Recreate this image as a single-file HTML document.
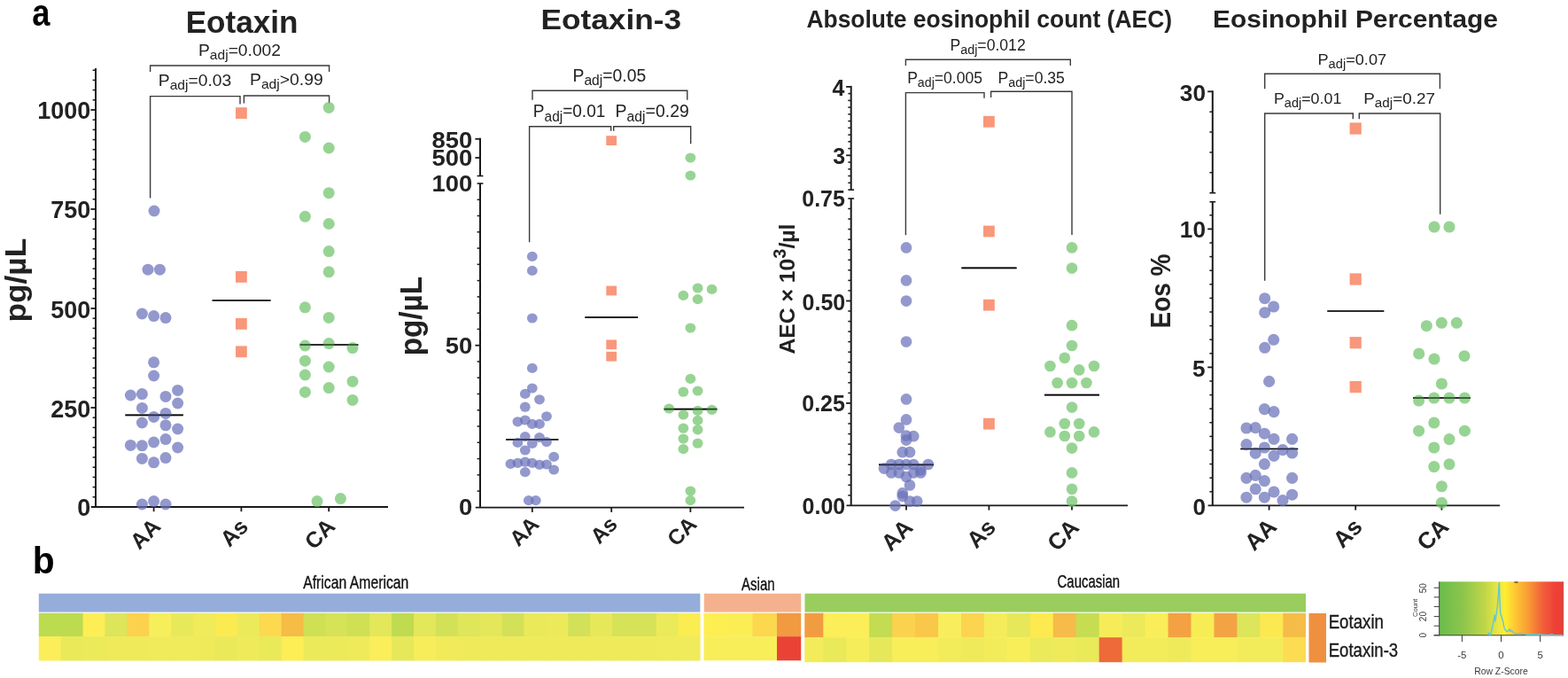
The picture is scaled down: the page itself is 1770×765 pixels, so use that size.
<!DOCTYPE html>
<html lang="en">
<head>
<meta charset="utf-8">
<title>Eotaxin, Eotaxin-3, AEC and Eosinophil Percentage by race</title>
<style>
html,body{margin:0;padding:0;background:#fff;}
body{width:1770px;height:765px;overflow:hidden;}
svg{display:block;font-family:"Liberation Sans",sans-serif;}
</style>
</head>
<body>
<svg width="1770" height="765" viewBox="0 0 1770 765">
<rect width="1770" height="765" fill="#ffffff"/>
<text transform="translate(36.31 29.4) scale(0.8568 1)" font-size="42.3" font-weight="bold" fill="#000">a</text>
<text transform="translate(36.85 647.3) scale(0.9531 1)" font-size="42.8" font-weight="bold" fill="#000">b</text>
<text transform="translate(209.63 36.9) scale(1.0158 1)" font-size="34.6" font-weight="bold" fill="#222222">Eotaxin</text>
<line x1="108.0" y1="77.0" x2="108.0" y2="572.0" stroke="#1a1a1a" stroke-width="2" stroke-linecap="butt"/>
<line x1="102.4" y1="460.0" x2="108.0" y2="460.0" stroke="#1a1a1a" stroke-width="1.8" stroke-linecap="butt"/>
<line x1="102.4" y1="348.0" x2="108.0" y2="348.0" stroke="#1a1a1a" stroke-width="1.8" stroke-linecap="butt"/>
<line x1="102.4" y1="236.0" x2="108.0" y2="236.0" stroke="#1a1a1a" stroke-width="1.8" stroke-linecap="butt"/>
<line x1="102.4" y1="124.0" x2="108.0" y2="124.0" stroke="#1a1a1a" stroke-width="1.8" stroke-linecap="butt"/>
<line x1="104.6" y1="560.8" x2="108.0" y2="560.8" stroke="#1a1a1a" stroke-width="1.5" stroke-linecap="butt"/>
<line x1="104.6" y1="549.6" x2="108.0" y2="549.6" stroke="#1a1a1a" stroke-width="1.5" stroke-linecap="butt"/>
<line x1="104.6" y1="538.4" x2="108.0" y2="538.4" stroke="#1a1a1a" stroke-width="1.5" stroke-linecap="butt"/>
<line x1="104.6" y1="527.2" x2="108.0" y2="527.2" stroke="#1a1a1a" stroke-width="1.5" stroke-linecap="butt"/>
<line x1="104.6" y1="516.0" x2="108.0" y2="516.0" stroke="#1a1a1a" stroke-width="1.5" stroke-linecap="butt"/>
<line x1="104.6" y1="504.8" x2="108.0" y2="504.8" stroke="#1a1a1a" stroke-width="1.5" stroke-linecap="butt"/>
<line x1="104.6" y1="493.6" x2="108.0" y2="493.6" stroke="#1a1a1a" stroke-width="1.5" stroke-linecap="butt"/>
<line x1="104.6" y1="482.4" x2="108.0" y2="482.4" stroke="#1a1a1a" stroke-width="1.5" stroke-linecap="butt"/>
<line x1="104.6" y1="471.2" x2="108.0" y2="471.2" stroke="#1a1a1a" stroke-width="1.5" stroke-linecap="butt"/>
<line x1="104.6" y1="448.8" x2="108.0" y2="448.8" stroke="#1a1a1a" stroke-width="1.5" stroke-linecap="butt"/>
<line x1="104.6" y1="437.6" x2="108.0" y2="437.6" stroke="#1a1a1a" stroke-width="1.5" stroke-linecap="butt"/>
<line x1="104.6" y1="426.4" x2="108.0" y2="426.4" stroke="#1a1a1a" stroke-width="1.5" stroke-linecap="butt"/>
<line x1="104.6" y1="415.2" x2="108.0" y2="415.2" stroke="#1a1a1a" stroke-width="1.5" stroke-linecap="butt"/>
<line x1="104.6" y1="404.0" x2="108.0" y2="404.0" stroke="#1a1a1a" stroke-width="1.5" stroke-linecap="butt"/>
<line x1="104.6" y1="392.8" x2="108.0" y2="392.8" stroke="#1a1a1a" stroke-width="1.5" stroke-linecap="butt"/>
<line x1="104.6" y1="381.6" x2="108.0" y2="381.6" stroke="#1a1a1a" stroke-width="1.5" stroke-linecap="butt"/>
<line x1="104.6" y1="370.4" x2="108.0" y2="370.4" stroke="#1a1a1a" stroke-width="1.5" stroke-linecap="butt"/>
<line x1="104.6" y1="359.2" x2="108.0" y2="359.2" stroke="#1a1a1a" stroke-width="1.5" stroke-linecap="butt"/>
<line x1="104.6" y1="336.8" x2="108.0" y2="336.8" stroke="#1a1a1a" stroke-width="1.5" stroke-linecap="butt"/>
<line x1="104.6" y1="325.6" x2="108.0" y2="325.6" stroke="#1a1a1a" stroke-width="1.5" stroke-linecap="butt"/>
<line x1="104.6" y1="314.4" x2="108.0" y2="314.4" stroke="#1a1a1a" stroke-width="1.5" stroke-linecap="butt"/>
<line x1="104.6" y1="303.2" x2="108.0" y2="303.2" stroke="#1a1a1a" stroke-width="1.5" stroke-linecap="butt"/>
<line x1="104.6" y1="292.0" x2="108.0" y2="292.0" stroke="#1a1a1a" stroke-width="1.5" stroke-linecap="butt"/>
<line x1="104.6" y1="280.8" x2="108.0" y2="280.8" stroke="#1a1a1a" stroke-width="1.5" stroke-linecap="butt"/>
<line x1="104.6" y1="269.6" x2="108.0" y2="269.6" stroke="#1a1a1a" stroke-width="1.5" stroke-linecap="butt"/>
<line x1="104.6" y1="258.4" x2="108.0" y2="258.4" stroke="#1a1a1a" stroke-width="1.5" stroke-linecap="butt"/>
<line x1="104.6" y1="247.2" x2="108.0" y2="247.2" stroke="#1a1a1a" stroke-width="1.5" stroke-linecap="butt"/>
<line x1="104.6" y1="224.8" x2="108.0" y2="224.8" stroke="#1a1a1a" stroke-width="1.5" stroke-linecap="butt"/>
<line x1="104.6" y1="213.6" x2="108.0" y2="213.6" stroke="#1a1a1a" stroke-width="1.5" stroke-linecap="butt"/>
<line x1="104.6" y1="202.4" x2="108.0" y2="202.4" stroke="#1a1a1a" stroke-width="1.5" stroke-linecap="butt"/>
<line x1="104.6" y1="191.2" x2="108.0" y2="191.2" stroke="#1a1a1a" stroke-width="1.5" stroke-linecap="butt"/>
<line x1="104.6" y1="180.0" x2="108.0" y2="180.0" stroke="#1a1a1a" stroke-width="1.5" stroke-linecap="butt"/>
<line x1="104.6" y1="168.8" x2="108.0" y2="168.8" stroke="#1a1a1a" stroke-width="1.5" stroke-linecap="butt"/>
<line x1="104.6" y1="157.6" x2="108.0" y2="157.6" stroke="#1a1a1a" stroke-width="1.5" stroke-linecap="butt"/>
<line x1="104.6" y1="146.4" x2="108.0" y2="146.4" stroke="#1a1a1a" stroke-width="1.5" stroke-linecap="butt"/>
<line x1="104.6" y1="135.2" x2="108.0" y2="135.2" stroke="#1a1a1a" stroke-width="1.5" stroke-linecap="butt"/>
<line x1="104.6" y1="112.8" x2="108.0" y2="112.8" stroke="#1a1a1a" stroke-width="1.5" stroke-linecap="butt"/>
<line x1="104.6" y1="101.6" x2="108.0" y2="101.6" stroke="#1a1a1a" stroke-width="1.5" stroke-linecap="butt"/>
<line x1="104.6" y1="90.4" x2="108.0" y2="90.4" stroke="#1a1a1a" stroke-width="1.5" stroke-linecap="butt"/>
<line x1="104.6" y1="79.2" x2="108.0" y2="79.2" stroke="#1a1a1a" stroke-width="1.5" stroke-linecap="butt"/>
<line x1="102.8" y1="572.0" x2="438.0" y2="572.0" stroke="#1a1a1a" stroke-width="1.8" stroke-linecap="butt"/>
<line x1="173.6" y1="572.0" x2="173.6" y2="577.2" stroke="#1a1a1a" stroke-width="1.8" stroke-linecap="butt"/>
<line x1="272.4" y1="572.0" x2="272.4" y2="577.2" stroke="#1a1a1a" stroke-width="1.8" stroke-linecap="butt"/>
<line x1="371.2" y1="572.0" x2="371.2" y2="577.2" stroke="#1a1a1a" stroke-width="1.8" stroke-linecap="butt"/>
<text transform="translate(42.3 133.93) scale(0.9850 1)" font-size="27.4" font-weight="bold" fill="#222222">1000</text>
<text transform="translate(57.28 246.43) scale(0.9850 1)" font-size="27.4" font-weight="bold" fill="#222222">750</text>
<text transform="translate(57.28 358.73) scale(0.9850 1)" font-size="27.4" font-weight="bold" fill="#222222">500</text>
<text transform="translate(57.28 470.93) scale(0.9850 1)" font-size="27.4" font-weight="bold" fill="#222222">250</text>
<text transform="translate(87.3 582.03) scale(0.9850 1)" font-size="27.4" font-weight="bold" fill="#222222">0</text>
<text transform="translate(28.7 363.59) rotate(-90) scale(1.0566 1)" font-size="33.4" font-weight="bold" fill="#222222">pg/µL</text>
<text x="182.7" y="595.6" font-size="25" font-weight="bold" text-anchor="end" transform="rotate(-45 182.7 595.6)" fill="#222222">AA</text>
<text x="281.6" y="595.6" font-size="25" font-weight="bold" text-anchor="end" transform="rotate(-45 281.6 595.6)" fill="#222222">As</text>
<text x="379.9" y="595.6" font-size="25" font-weight="bold" text-anchor="end" transform="rotate(-45 379.9 595.6)" fill="#222222">CA</text>
<path d="M169.6 81.0V74.0H371.6V81.0" fill="none" stroke="#3a3a3a" stroke-width="1.4" stroke-linejoin="miter"/>
<text transform="translate(224.01 62.6) scale(1.0284 1)" font-size="18.7" fill="#222222">P<tspan dy="4.21" font-size="15.15">adj</tspan><tspan dy="-4.21">=0.002</tspan></text>
<path d="M169.6 223.5V108.6H271.0V117.5" fill="none" stroke="#3a3a3a" stroke-width="1.4" stroke-linejoin="miter"/>
<path d="M275.4 116.6V108.0H371.6V116.6" fill="none" stroke="#3a3a3a" stroke-width="1.4" stroke-linejoin="miter"/>
<text transform="translate(178.81 97) scale(1.0301 1)" font-size="18.7" fill="#222222">P<tspan dy="4.21" font-size="15.15">adj</tspan><tspan dy="-4.21">=0.03</tspan></text>
<text transform="translate(282.01 96) scale(1.0333 1)" font-size="18.7" fill="#222222">P<tspan dy="4.21" font-size="15.15">adj</tspan><tspan dy="-4.21">&gt;0.99</tspan></text>
<line x1="141.4" y1="468.4" x2="206.8" y2="468.4" stroke="#0a0a0a" stroke-width="1.7" stroke-linecap="butt"/>
<line x1="239.6" y1="339.0" x2="305.6" y2="339.0" stroke="#0a0a0a" stroke-width="1.7" stroke-linecap="butt"/>
<line x1="338.6" y1="389.0" x2="404.4" y2="389.0" stroke="#0a0a0a" stroke-width="1.7" stroke-linecap="butt"/>
<circle cx="174.0" cy="238.0" r="6.5" fill="#6a72ba" fill-opacity="0.72"/>
<circle cx="167.0" cy="304.2" r="6.5" fill="#6a72ba" fill-opacity="0.72"/>
<circle cx="180.4" cy="304.2" r="6.5" fill="#6a72ba" fill-opacity="0.72"/>
<circle cx="160.4" cy="354.0" r="6.5" fill="#6a72ba" fill-opacity="0.72"/>
<circle cx="173.6" cy="356.6" r="6.5" fill="#6a72ba" fill-opacity="0.72"/>
<circle cx="187.0" cy="358.6" r="6.5" fill="#6a72ba" fill-opacity="0.72"/>
<circle cx="173.6" cy="408.8" r="6.5" fill="#6a72ba" fill-opacity="0.72"/>
<circle cx="173.6" cy="424.0" r="6.5" fill="#6a72ba" fill-opacity="0.72"/>
<circle cx="147.4" cy="446.0" r="6.5" fill="#6a72ba" fill-opacity="0.72"/>
<circle cx="160.4" cy="444.6" r="6.5" fill="#6a72ba" fill-opacity="0.72"/>
<circle cx="187.0" cy="447.4" r="6.5" fill="#6a72ba" fill-opacity="0.72"/>
<circle cx="200.6" cy="440.4" r="6.5" fill="#6a72ba" fill-opacity="0.72"/>
<circle cx="200.6" cy="455.0" r="6.5" fill="#6a72ba" fill-opacity="0.72"/>
<circle cx="160.4" cy="460.4" r="6.5" fill="#6a72ba" fill-opacity="0.72"/>
<circle cx="173.6" cy="470.4" r="6.5" fill="#6a72ba" fill-opacity="0.72"/>
<circle cx="187.0" cy="466.4" r="6.5" fill="#6a72ba" fill-opacity="0.72"/>
<circle cx="160.4" cy="477.0" r="6.5" fill="#6a72ba" fill-opacity="0.72"/>
<circle cx="187.0" cy="479.8" r="6.5" fill="#6a72ba" fill-opacity="0.72"/>
<circle cx="200.6" cy="484.0" r="6.5" fill="#6a72ba" fill-opacity="0.72"/>
<circle cx="147.4" cy="502.4" r="6.5" fill="#6a72ba" fill-opacity="0.72"/>
<circle cx="160.4" cy="502.8" r="6.5" fill="#6a72ba" fill-opacity="0.72"/>
<circle cx="173.6" cy="499.0" r="6.5" fill="#6a72ba" fill-opacity="0.72"/>
<circle cx="187.0" cy="495.6" r="6.5" fill="#6a72ba" fill-opacity="0.72"/>
<circle cx="200.6" cy="505.0" r="6.5" fill="#6a72ba" fill-opacity="0.72"/>
<circle cx="160.4" cy="517.4" r="6.5" fill="#6a72ba" fill-opacity="0.72"/>
<circle cx="173.6" cy="521.8" r="6.5" fill="#6a72ba" fill-opacity="0.72"/>
<circle cx="187.0" cy="516.6" r="6.5" fill="#6a72ba" fill-opacity="0.72"/>
<circle cx="160.4" cy="569.0" r="6.5" fill="#6a72ba" fill-opacity="0.72"/>
<circle cx="173.6" cy="565.6" r="6.5" fill="#6a72ba" fill-opacity="0.72"/>
<circle cx="187.0" cy="569.0" r="6.5" fill="#6a72ba" fill-opacity="0.72"/>
<rect x="266.0" y="121.2" width="12.8" height="12.8" fill="#f76f48" fill-opacity="0.72"/>
<rect x="266.0" y="306.0" width="12.8" height="12.8" fill="#f76f48" fill-opacity="0.72"/>
<rect x="266.0" y="359.0" width="12.8" height="12.8" fill="#f76f48" fill-opacity="0.72"/>
<rect x="266.0" y="390.4" width="12.8" height="12.8" fill="#f76f48" fill-opacity="0.72"/>
<circle cx="371.2" cy="121.4" r="6.5" fill="#6fc46a" fill-opacity="0.72"/>
<circle cx="344.4" cy="154.4" r="6.5" fill="#6fc46a" fill-opacity="0.72"/>
<circle cx="371.2" cy="167.0" r="6.5" fill="#6fc46a" fill-opacity="0.72"/>
<circle cx="371.2" cy="217.7" r="6.5" fill="#6fc46a" fill-opacity="0.72"/>
<circle cx="344.4" cy="244.3" r="6.5" fill="#6fc46a" fill-opacity="0.72"/>
<circle cx="371.2" cy="252.5" r="6.5" fill="#6fc46a" fill-opacity="0.72"/>
<circle cx="371.2" cy="283.6" r="6.5" fill="#6fc46a" fill-opacity="0.72"/>
<circle cx="371.2" cy="306.8" r="6.5" fill="#6fc46a" fill-opacity="0.72"/>
<circle cx="344.4" cy="346.8" r="6.5" fill="#6fc46a" fill-opacity="0.72"/>
<circle cx="371.2" cy="358.4" r="6.5" fill="#6fc46a" fill-opacity="0.72"/>
<circle cx="344.4" cy="390.0" r="6.5" fill="#6fc46a" fill-opacity="0.72"/>
<circle cx="371.2" cy="387.6" r="6.5" fill="#6fc46a" fill-opacity="0.72"/>
<circle cx="398.0" cy="392.6" r="6.5" fill="#6fc46a" fill-opacity="0.72"/>
<circle cx="344.4" cy="407.2" r="6.5" fill="#6fc46a" fill-opacity="0.72"/>
<circle cx="371.2" cy="414.0" r="6.5" fill="#6fc46a" fill-opacity="0.72"/>
<circle cx="344.4" cy="423.0" r="6.5" fill="#6fc46a" fill-opacity="0.72"/>
<circle cx="398.0" cy="430.4" r="6.5" fill="#6fc46a" fill-opacity="0.72"/>
<circle cx="371.2" cy="437.6" r="6.5" fill="#6fc46a" fill-opacity="0.72"/>
<circle cx="344.4" cy="442.4" r="6.5" fill="#6fc46a" fill-opacity="0.72"/>
<circle cx="398.0" cy="451.4" r="6.5" fill="#6fc46a" fill-opacity="0.72"/>
<circle cx="358.0" cy="565.6" r="6.5" fill="#6fc46a" fill-opacity="0.72"/>
<circle cx="384.4" cy="562.6" r="6.5" fill="#6fc46a" fill-opacity="0.72"/>
<line x1="141.4" y1="468.4" x2="206.8" y2="468.4" stroke="#000" stroke-opacity="0.5" stroke-width="1.7"/>
<line x1="239.6" y1="339.0" x2="305.6" y2="339.0" stroke="#000" stroke-opacity="0.5" stroke-width="1.7"/>
<line x1="338.6" y1="389.0" x2="404.4" y2="389.0" stroke="#000" stroke-opacity="0.5" stroke-width="1.7"/>
<text transform="translate(610.52 32.7) scale(1.1147 1)" font-size="31.6" font-weight="bold" fill="#222222">Eotaxin-3</text>
<line x1="542.0" y1="155.8" x2="542.0" y2="198.5" stroke="#1a1a1a" stroke-width="2" stroke-linecap="butt"/>
<line x1="538.6" y1="198.5" x2="545.4" y2="198.5" stroke="#1a1a1a" stroke-width="1.6" stroke-linecap="butt"/>
<line x1="542.0" y1="207.0" x2="542.0" y2="572.7" stroke="#1a1a1a" stroke-width="2" stroke-linecap="butt"/>
<line x1="538.6" y1="207.0" x2="545.4" y2="207.0" stroke="#1a1a1a" stroke-width="1.6" stroke-linecap="butt"/>
<line x1="536.4" y1="156.8" x2="542.0" y2="156.8" stroke="#1a1a1a" stroke-width="1.8" stroke-linecap="butt"/>
<line x1="536.4" y1="178.0" x2="542.0" y2="178.0" stroke="#1a1a1a" stroke-width="1.8" stroke-linecap="butt"/>
<line x1="536.4" y1="389.7" x2="542.0" y2="389.7" stroke="#1a1a1a" stroke-width="1.8" stroke-linecap="butt"/>
<line x1="538.6" y1="554.1" x2="542.0" y2="554.1" stroke="#1a1a1a" stroke-width="1.5" stroke-linecap="butt"/>
<line x1="538.6" y1="535.9" x2="542.0" y2="535.9" stroke="#1a1a1a" stroke-width="1.5" stroke-linecap="butt"/>
<line x1="538.6" y1="517.6" x2="542.0" y2="517.6" stroke="#1a1a1a" stroke-width="1.5" stroke-linecap="butt"/>
<line x1="538.6" y1="499.3" x2="542.0" y2="499.3" stroke="#1a1a1a" stroke-width="1.5" stroke-linecap="butt"/>
<line x1="538.6" y1="481.0" x2="542.0" y2="481.0" stroke="#1a1a1a" stroke-width="1.5" stroke-linecap="butt"/>
<line x1="538.6" y1="462.8" x2="542.0" y2="462.8" stroke="#1a1a1a" stroke-width="1.5" stroke-linecap="butt"/>
<line x1="538.6" y1="444.5" x2="542.0" y2="444.5" stroke="#1a1a1a" stroke-width="1.5" stroke-linecap="butt"/>
<line x1="538.6" y1="426.2" x2="542.0" y2="426.2" stroke="#1a1a1a" stroke-width="1.5" stroke-linecap="butt"/>
<line x1="538.6" y1="408.0" x2="542.0" y2="408.0" stroke="#1a1a1a" stroke-width="1.5" stroke-linecap="butt"/>
<line x1="538.6" y1="371.4" x2="542.0" y2="371.4" stroke="#1a1a1a" stroke-width="1.5" stroke-linecap="butt"/>
<line x1="538.6" y1="353.2" x2="542.0" y2="353.2" stroke="#1a1a1a" stroke-width="1.5" stroke-linecap="butt"/>
<line x1="538.6" y1="334.9" x2="542.0" y2="334.9" stroke="#1a1a1a" stroke-width="1.5" stroke-linecap="butt"/>
<line x1="538.6" y1="316.6" x2="542.0" y2="316.6" stroke="#1a1a1a" stroke-width="1.5" stroke-linecap="butt"/>
<line x1="538.6" y1="298.3" x2="542.0" y2="298.3" stroke="#1a1a1a" stroke-width="1.5" stroke-linecap="butt"/>
<line x1="538.6" y1="280.1" x2="542.0" y2="280.1" stroke="#1a1a1a" stroke-width="1.5" stroke-linecap="butt"/>
<line x1="538.6" y1="261.8" x2="542.0" y2="261.8" stroke="#1a1a1a" stroke-width="1.5" stroke-linecap="butt"/>
<line x1="538.6" y1="243.5" x2="542.0" y2="243.5" stroke="#1a1a1a" stroke-width="1.5" stroke-linecap="butt"/>
<line x1="538.6" y1="225.3" x2="542.0" y2="225.3" stroke="#1a1a1a" stroke-width="1.5" stroke-linecap="butt"/>
<line x1="536.8" y1="572.7" x2="840.0" y2="572.7" stroke="#1a1a1a" stroke-width="1.8" stroke-linecap="butt"/>
<line x1="600.8" y1="572.7" x2="600.8" y2="577.9" stroke="#1a1a1a" stroke-width="1.8" stroke-linecap="butt"/>
<line x1="690.2" y1="572.7" x2="690.2" y2="577.9" stroke="#1a1a1a" stroke-width="1.8" stroke-linecap="butt"/>
<line x1="779.4" y1="572.7" x2="779.4" y2="577.9" stroke="#1a1a1a" stroke-width="1.8" stroke-linecap="butt"/>
<text transform="translate(487.42 167.01) scale(1.0700 1)" font-size="25.6" font-weight="bold" fill="#222222">850</text>
<text transform="translate(487.42 187.11) scale(1.0700 1)" font-size="25.6" font-weight="bold" fill="#222222">500</text>
<text transform="translate(487.42 216.01) scale(1.0700 1)" font-size="25.6" font-weight="bold" fill="#222222">100</text>
<text transform="translate(502.69 399.01) scale(1.0700 1)" font-size="25.6" font-weight="bold" fill="#222222">50</text>
<text transform="translate(517.89 581.41) scale(1.0700 1)" font-size="25.6" font-weight="bold" fill="#222222">0</text>
<text transform="translate(475.6 401.36) rotate(-90) scale(0.9703 1)" font-size="34.3" font-weight="bold" fill="#222222">pg/µL</text>
<text x="610.0" y="593.0" font-size="24.3" font-weight="bold" text-anchor="end" transform="rotate(-45 610.0 593.0)" fill="#222222">AA</text>
<text x="698.4" y="593.0" font-size="24.3" font-weight="bold" text-anchor="end" transform="rotate(-45 698.4 593.0)" fill="#222222">As</text>
<text x="788.0" y="593.0" font-size="24.3" font-weight="bold" text-anchor="end" transform="rotate(-45 788.0 593.0)" fill="#222222">CA</text>
<path d="M601.0 112.7V102.2H775.8V112.7" fill="none" stroke="#3a3a3a" stroke-width="1.4" stroke-linejoin="miter"/>
<text transform="translate(646.5 91.8) scale(1.0025 1)" font-size="19.3" fill="#222222">P<tspan dy="4.34" font-size="15.63">adj</tspan><tspan dy="-4.34">=0.05</tspan></text>
<path d="M597.6 273.3V142.7H689.7V147.7" fill="none" stroke="#3a3a3a" stroke-width="1.4" stroke-linejoin="miter"/>
<path d="M692.7 147.7V142.7H779.7V162.3" fill="none" stroke="#3a3a3a" stroke-width="1.4" stroke-linejoin="miter"/>
<text transform="translate(601.83 132.3) scale(0.9881 1)" font-size="19.3" fill="#222222">P<tspan dy="4.34" font-size="15.63">adj</tspan><tspan dy="-4.34">=0.01</tspan></text>
<text transform="translate(694.59 132.3) scale(1.0087 1)" font-size="19.3" fill="#222222">P<tspan dy="4.34" font-size="15.63">adj</tspan><tspan dy="-4.34">=0.29</tspan></text>
<line x1="571.0" y1="496.0" x2="630.4" y2="496.0" stroke="#0a0a0a" stroke-width="1.7" stroke-linecap="butt"/>
<line x1="660.4" y1="358.2" x2="720.0" y2="358.2" stroke="#0a0a0a" stroke-width="1.7" stroke-linecap="butt"/>
<line x1="749.6" y1="461.6" x2="809.4" y2="461.6" stroke="#0a0a0a" stroke-width="1.7" stroke-linecap="butt"/>
<ellipse cx="600.8" cy="289.4" rx="5.9" ry="5.6" fill="#6a72ba" fill-opacity="0.72"/>
<ellipse cx="600.8" cy="305.4" rx="5.9" ry="5.6" fill="#6a72ba" fill-opacity="0.72"/>
<ellipse cx="600.8" cy="359.0" rx="5.9" ry="5.6" fill="#6a72ba" fill-opacity="0.72"/>
<ellipse cx="600.8" cy="415.4" rx="5.9" ry="5.6" fill="#6a72ba" fill-opacity="0.72"/>
<ellipse cx="600.8" cy="438.0" rx="5.9" ry="5.6" fill="#6a72ba" fill-opacity="0.72"/>
<ellipse cx="592.8" cy="444.4" rx="5.9" ry="5.6" fill="#6a72ba" fill-opacity="0.72"/>
<ellipse cx="609.0" cy="450.8" rx="5.9" ry="5.6" fill="#6a72ba" fill-opacity="0.72"/>
<ellipse cx="592.8" cy="459.2" rx="5.9" ry="5.6" fill="#6a72ba" fill-opacity="0.72"/>
<ellipse cx="617.0" cy="469.8" rx="5.9" ry="5.6" fill="#6a72ba" fill-opacity="0.72"/>
<ellipse cx="584.4" cy="475.8" rx="5.9" ry="5.6" fill="#6a72ba" fill-opacity="0.72"/>
<ellipse cx="592.8" cy="474.0" rx="5.9" ry="5.6" fill="#6a72ba" fill-opacity="0.72"/>
<ellipse cx="600.8" cy="478.4" rx="5.9" ry="5.6" fill="#6a72ba" fill-opacity="0.72"/>
<ellipse cx="609.0" cy="478.4" rx="5.9" ry="5.6" fill="#6a72ba" fill-opacity="0.72"/>
<ellipse cx="592.8" cy="492.6" rx="5.9" ry="5.6" fill="#6a72ba" fill-opacity="0.72"/>
<ellipse cx="609.0" cy="493.6" rx="5.9" ry="5.6" fill="#6a72ba" fill-opacity="0.72"/>
<ellipse cx="584.4" cy="499.4" rx="5.9" ry="5.6" fill="#6a72ba" fill-opacity="0.72"/>
<ellipse cx="600.8" cy="500.4" rx="5.9" ry="5.6" fill="#6a72ba" fill-opacity="0.72"/>
<ellipse cx="617.0" cy="498.6" rx="5.9" ry="5.6" fill="#6a72ba" fill-opacity="0.72"/>
<ellipse cx="592.8" cy="508.0" rx="5.9" ry="5.6" fill="#6a72ba" fill-opacity="0.72"/>
<ellipse cx="625.2" cy="515.4" rx="5.9" ry="5.6" fill="#6a72ba" fill-opacity="0.72"/>
<ellipse cx="576.4" cy="523.4" rx="5.9" ry="5.6" fill="#6a72ba" fill-opacity="0.72"/>
<ellipse cx="584.4" cy="522.4" rx="5.9" ry="5.6" fill="#6a72ba" fill-opacity="0.72"/>
<ellipse cx="592.8" cy="521.2" rx="5.9" ry="5.6" fill="#6a72ba" fill-opacity="0.72"/>
<ellipse cx="600.8" cy="522.4" rx="5.9" ry="5.6" fill="#6a72ba" fill-opacity="0.72"/>
<ellipse cx="609.0" cy="524.4" rx="5.9" ry="5.6" fill="#6a72ba" fill-opacity="0.72"/>
<ellipse cx="617.0" cy="524.0" rx="5.9" ry="5.6" fill="#6a72ba" fill-opacity="0.72"/>
<ellipse cx="625.2" cy="530.0" rx="5.9" ry="5.6" fill="#6a72ba" fill-opacity="0.72"/>
<ellipse cx="592.8" cy="532.6" rx="5.9" ry="5.6" fill="#6a72ba" fill-opacity="0.72"/>
<ellipse cx="596.8" cy="564.6" rx="5.9" ry="5.6" fill="#6a72ba" fill-opacity="0.72"/>
<ellipse cx="604.8" cy="564.6" rx="5.9" ry="5.6" fill="#6a72ba" fill-opacity="0.72"/>
<rect x="684.3" y="153.2" width="11.8" height="10.8" fill="#f76f48" fill-opacity="0.72"/>
<rect x="684.3" y="322.6" width="11.8" height="10.8" fill="#f76f48" fill-opacity="0.72"/>
<rect x="684.3" y="383.4" width="11.8" height="10.8" fill="#f76f48" fill-opacity="0.72"/>
<rect x="684.3" y="396.8" width="11.8" height="10.8" fill="#f76f48" fill-opacity="0.72"/>
<ellipse cx="779.4" cy="178.0" rx="5.9" ry="5.6" fill="#6fc46a" fill-opacity="0.72"/>
<ellipse cx="779.4" cy="198.0" rx="5.9" ry="5.6" fill="#6fc46a" fill-opacity="0.72"/>
<ellipse cx="787.6" cy="325.0" rx="5.9" ry="5.6" fill="#6fc46a" fill-opacity="0.72"/>
<ellipse cx="803.6" cy="326.4" rx="5.9" ry="5.6" fill="#6fc46a" fill-opacity="0.72"/>
<ellipse cx="771.4" cy="333.4" rx="5.9" ry="5.6" fill="#6fc46a" fill-opacity="0.72"/>
<ellipse cx="787.6" cy="337.6" rx="5.9" ry="5.6" fill="#6fc46a" fill-opacity="0.72"/>
<ellipse cx="779.4" cy="370.0" rx="5.9" ry="5.6" fill="#6fc46a" fill-opacity="0.72"/>
<ellipse cx="779.4" cy="427.4" rx="5.9" ry="5.6" fill="#6fc46a" fill-opacity="0.72"/>
<ellipse cx="771.4" cy="442.2" rx="5.9" ry="5.6" fill="#6fc46a" fill-opacity="0.72"/>
<ellipse cx="787.6" cy="441.0" rx="5.9" ry="5.6" fill="#6fc46a" fill-opacity="0.72"/>
<ellipse cx="755.2" cy="461.0" rx="5.9" ry="5.6" fill="#6fc46a" fill-opacity="0.72"/>
<ellipse cx="787.6" cy="463.4" rx="5.9" ry="5.6" fill="#6fc46a" fill-opacity="0.72"/>
<ellipse cx="803.6" cy="462.4" rx="5.9" ry="5.6" fill="#6fc46a" fill-opacity="0.72"/>
<ellipse cx="771.4" cy="468.0" rx="5.9" ry="5.6" fill="#6fc46a" fill-opacity="0.72"/>
<ellipse cx="787.6" cy="474.4" rx="5.9" ry="5.6" fill="#6fc46a" fill-opacity="0.72"/>
<ellipse cx="771.4" cy="483.2" rx="5.9" ry="5.6" fill="#6fc46a" fill-opacity="0.72"/>
<ellipse cx="787.6" cy="484.8" rx="5.9" ry="5.6" fill="#6fc46a" fill-opacity="0.72"/>
<ellipse cx="771.4" cy="495.0" rx="5.9" ry="5.6" fill="#6fc46a" fill-opacity="0.72"/>
<ellipse cx="787.6" cy="500.2" rx="5.9" ry="5.6" fill="#6fc46a" fill-opacity="0.72"/>
<ellipse cx="771.4" cy="506.6" rx="5.9" ry="5.6" fill="#6fc46a" fill-opacity="0.72"/>
<ellipse cx="779.4" cy="554.0" rx="5.9" ry="5.6" fill="#6fc46a" fill-opacity="0.72"/>
<ellipse cx="779.4" cy="564.6" rx="5.9" ry="5.6" fill="#6fc46a" fill-opacity="0.72"/>
<line x1="571.0" y1="496.0" x2="630.4" y2="496.0" stroke="#000" stroke-opacity="0.5" stroke-width="1.7"/>
<line x1="660.4" y1="358.2" x2="720.0" y2="358.2" stroke="#000" stroke-opacity="0.5" stroke-width="1.7"/>
<line x1="749.6" y1="461.6" x2="809.4" y2="461.6" stroke="#000" stroke-opacity="0.5" stroke-width="1.7"/>
<text transform="translate(910.44 30.6) scale(0.9867 1)" font-size="26.8" font-weight="bold" fill="#222222">Absolute eosinophil count (AEC)</text>
<line x1="960.7" y1="96.9" x2="960.7" y2="214.2" stroke="#1a1a1a" stroke-width="2" stroke-linecap="butt"/>
<line x1="957.3" y1="214.2" x2="964.1" y2="214.2" stroke="#1a1a1a" stroke-width="1.6" stroke-linecap="butt"/>
<line x1="960.7" y1="224.0" x2="960.7" y2="570.4" stroke="#1a1a1a" stroke-width="2" stroke-linecap="butt"/>
<line x1="957.3" y1="224.0" x2="964.1" y2="224.0" stroke="#1a1a1a" stroke-width="1.6" stroke-linecap="butt"/>
<line x1="955.1" y1="97.9" x2="960.7" y2="97.9" stroke="#1a1a1a" stroke-width="1.8" stroke-linecap="butt"/>
<line x1="955.1" y1="175.3" x2="960.7" y2="175.3" stroke="#1a1a1a" stroke-width="1.8" stroke-linecap="butt"/>
<line x1="955.1" y1="454.9" x2="960.7" y2="454.9" stroke="#1a1a1a" stroke-width="1.8" stroke-linecap="butt"/>
<line x1="955.1" y1="339.5" x2="960.7" y2="339.5" stroke="#1a1a1a" stroke-width="1.8" stroke-linecap="butt"/>
<line x1="957.3" y1="105.6" x2="960.7" y2="105.6" stroke="#1a1a1a" stroke-width="1.5" stroke-linecap="butt"/>
<line x1="957.3" y1="113.4" x2="960.7" y2="113.4" stroke="#1a1a1a" stroke-width="1.5" stroke-linecap="butt"/>
<line x1="957.3" y1="121.1" x2="960.7" y2="121.1" stroke="#1a1a1a" stroke-width="1.5" stroke-linecap="butt"/>
<line x1="957.3" y1="128.9" x2="960.7" y2="128.9" stroke="#1a1a1a" stroke-width="1.5" stroke-linecap="butt"/>
<line x1="957.3" y1="136.6" x2="960.7" y2="136.6" stroke="#1a1a1a" stroke-width="1.5" stroke-linecap="butt"/>
<line x1="957.3" y1="144.3" x2="960.7" y2="144.3" stroke="#1a1a1a" stroke-width="1.5" stroke-linecap="butt"/>
<line x1="957.3" y1="152.1" x2="960.7" y2="152.1" stroke="#1a1a1a" stroke-width="1.5" stroke-linecap="butt"/>
<line x1="957.3" y1="159.8" x2="960.7" y2="159.8" stroke="#1a1a1a" stroke-width="1.5" stroke-linecap="butt"/>
<line x1="957.3" y1="167.6" x2="960.7" y2="167.6" stroke="#1a1a1a" stroke-width="1.5" stroke-linecap="butt"/>
<line x1="957.3" y1="183.0" x2="960.7" y2="183.0" stroke="#1a1a1a" stroke-width="1.5" stroke-linecap="butt"/>
<line x1="957.3" y1="190.8" x2="960.7" y2="190.8" stroke="#1a1a1a" stroke-width="1.5" stroke-linecap="butt"/>
<line x1="957.3" y1="198.5" x2="960.7" y2="198.5" stroke="#1a1a1a" stroke-width="1.5" stroke-linecap="butt"/>
<line x1="957.3" y1="206.3" x2="960.7" y2="206.3" stroke="#1a1a1a" stroke-width="1.5" stroke-linecap="butt"/>
<line x1="957.3" y1="558.9" x2="960.7" y2="558.9" stroke="#1a1a1a" stroke-width="1.5" stroke-linecap="butt"/>
<line x1="957.3" y1="547.3" x2="960.7" y2="547.3" stroke="#1a1a1a" stroke-width="1.5" stroke-linecap="butt"/>
<line x1="957.3" y1="535.8" x2="960.7" y2="535.8" stroke="#1a1a1a" stroke-width="1.5" stroke-linecap="butt"/>
<line x1="957.3" y1="524.2" x2="960.7" y2="524.2" stroke="#1a1a1a" stroke-width="1.5" stroke-linecap="butt"/>
<line x1="957.3" y1="512.7" x2="960.7" y2="512.7" stroke="#1a1a1a" stroke-width="1.5" stroke-linecap="butt"/>
<line x1="957.3" y1="501.1" x2="960.7" y2="501.1" stroke="#1a1a1a" stroke-width="1.5" stroke-linecap="butt"/>
<line x1="957.3" y1="489.6" x2="960.7" y2="489.6" stroke="#1a1a1a" stroke-width="1.5" stroke-linecap="butt"/>
<line x1="957.3" y1="478.0" x2="960.7" y2="478.0" stroke="#1a1a1a" stroke-width="1.5" stroke-linecap="butt"/>
<line x1="957.3" y1="466.5" x2="960.7" y2="466.5" stroke="#1a1a1a" stroke-width="1.5" stroke-linecap="butt"/>
<line x1="957.3" y1="443.4" x2="960.7" y2="443.4" stroke="#1a1a1a" stroke-width="1.5" stroke-linecap="butt"/>
<line x1="957.3" y1="431.8" x2="960.7" y2="431.8" stroke="#1a1a1a" stroke-width="1.5" stroke-linecap="butt"/>
<line x1="957.3" y1="420.3" x2="960.7" y2="420.3" stroke="#1a1a1a" stroke-width="1.5" stroke-linecap="butt"/>
<line x1="957.3" y1="408.7" x2="960.7" y2="408.7" stroke="#1a1a1a" stroke-width="1.5" stroke-linecap="butt"/>
<line x1="957.3" y1="397.2" x2="960.7" y2="397.2" stroke="#1a1a1a" stroke-width="1.5" stroke-linecap="butt"/>
<line x1="957.3" y1="385.6" x2="960.7" y2="385.6" stroke="#1a1a1a" stroke-width="1.5" stroke-linecap="butt"/>
<line x1="957.3" y1="374.1" x2="960.7" y2="374.1" stroke="#1a1a1a" stroke-width="1.5" stroke-linecap="butt"/>
<line x1="957.3" y1="362.6" x2="960.7" y2="362.6" stroke="#1a1a1a" stroke-width="1.5" stroke-linecap="butt"/>
<line x1="957.3" y1="351.0" x2="960.7" y2="351.0" stroke="#1a1a1a" stroke-width="1.5" stroke-linecap="butt"/>
<line x1="957.3" y1="327.9" x2="960.7" y2="327.9" stroke="#1a1a1a" stroke-width="1.5" stroke-linecap="butt"/>
<line x1="957.3" y1="316.4" x2="960.7" y2="316.4" stroke="#1a1a1a" stroke-width="1.5" stroke-linecap="butt"/>
<line x1="957.3" y1="304.8" x2="960.7" y2="304.8" stroke="#1a1a1a" stroke-width="1.5" stroke-linecap="butt"/>
<line x1="957.3" y1="293.3" x2="960.7" y2="293.3" stroke="#1a1a1a" stroke-width="1.5" stroke-linecap="butt"/>
<line x1="957.3" y1="281.7" x2="960.7" y2="281.7" stroke="#1a1a1a" stroke-width="1.5" stroke-linecap="butt"/>
<line x1="957.3" y1="270.2" x2="960.7" y2="270.2" stroke="#1a1a1a" stroke-width="1.5" stroke-linecap="butt"/>
<line x1="957.3" y1="258.6" x2="960.7" y2="258.6" stroke="#1a1a1a" stroke-width="1.5" stroke-linecap="butt"/>
<line x1="957.3" y1="247.1" x2="960.7" y2="247.1" stroke="#1a1a1a" stroke-width="1.5" stroke-linecap="butt"/>
<line x1="957.3" y1="235.5" x2="960.7" y2="235.5" stroke="#1a1a1a" stroke-width="1.5" stroke-linecap="butt"/>
<line x1="955.5" y1="570.4" x2="1273.0" y2="570.4" stroke="#1a1a1a" stroke-width="1.8" stroke-linecap="butt"/>
<line x1="1023.0" y1="570.4" x2="1023.0" y2="575.6" stroke="#1a1a1a" stroke-width="1.8" stroke-linecap="butt"/>
<line x1="1116.4" y1="570.4" x2="1116.4" y2="575.6" stroke="#1a1a1a" stroke-width="1.8" stroke-linecap="butt"/>
<line x1="1210.0" y1="570.4" x2="1210.0" y2="575.6" stroke="#1a1a1a" stroke-width="1.8" stroke-linecap="butt"/>
<text transform="translate(939.45 108.1) scale(1.0000 1)" font-size="25" font-weight="bold" fill="#222222">4</text>
<text transform="translate(940.2 185.1) scale(1.0000 1)" font-size="25" font-weight="bold" fill="#222222">3</text>
<text transform="translate(905.26 233.1) scale(1.0000 1)" font-size="25" font-weight="bold" fill="#222222">0.75</text>
<text transform="translate(905.58 349.6) scale(1.0000 1)" font-size="25" font-weight="bold" fill="#222222">0.50</text>
<text transform="translate(905.26 464.3) scale(1.0000 1)" font-size="25" font-weight="bold" fill="#222222">0.25</text>
<text transform="translate(905.58 580.1) scale(1.0000 1)" font-size="25" font-weight="bold" fill="#222222">0.00</text>
<text transform="translate(897.2 399.62) rotate(-90) scale(1.0230 1)" font-size="24.2" font-weight="bold" fill="#222222">AEC × 10<tspan dy="-9.8" font-size="19.5">3</tspan><tspan dy="9.8">/µl</tspan></text>
<text x="1032.0" y="596.6" font-size="26" font-weight="bold" text-anchor="end" transform="rotate(-45 1032.0 596.6)" fill="#222222">AA</text>
<text x="1125.6" y="596.6" font-size="26" font-weight="bold" text-anchor="end" transform="rotate(-45 1125.6 596.6)" fill="#222222">As</text>
<text x="1219.5" y="596.6" font-size="26" font-weight="bold" text-anchor="end" transform="rotate(-45 1219.5 596.6)" fill="#222222">CA</text>
<path d="M1022.4 74.1V67.2H1208.3V74.1" fill="none" stroke="#3a3a3a" stroke-width="1.4" stroke-linejoin="miter"/>
<text transform="translate(1072.55 56.7) scale(1.0065 1)" font-size="17.5" fill="#222222">P<tspan dy="3.94" font-size="14.18">adj</tspan><tspan dy="-3.94">=0.012</tspan></text>
<path d="M1022.4 265.3V104.6H1111.0V110.7" fill="none" stroke="#3a3a3a" stroke-width="1.4" stroke-linejoin="miter"/>
<path d="M1118.6 110.0V103.2H1210.0V265.0" fill="none" stroke="#3a3a3a" stroke-width="1.4" stroke-linejoin="miter"/>
<text transform="translate(1024.15 94) scale(1.0019 1)" font-size="17.5" fill="#222222">P<tspan dy="3.94" font-size="14.18">adj</tspan><tspan dy="-3.94">=0.005</tspan></text>
<text transform="translate(1126.55 93.6) scale(1.0065 1)" font-size="17.5" fill="#222222">P<tspan dy="3.94" font-size="14.18">adj</tspan><tspan dy="-3.94">=0.35</tspan></text>
<line x1="992.0" y1="524.3" x2="1054.0" y2="524.3" stroke="#0a0a0a" stroke-width="1.7" stroke-linecap="butt"/>
<line x1="1085.4" y1="302.4" x2="1147.6" y2="302.4" stroke="#0a0a0a" stroke-width="1.7" stroke-linecap="butt"/>
<line x1="1179.0" y1="445.6" x2="1241.0" y2="445.6" stroke="#0a0a0a" stroke-width="1.7" stroke-linecap="butt"/>
<circle cx="1023.0" cy="279.4" r="6.35" fill="#6a72ba" fill-opacity="0.72"/>
<circle cx="1023.0" cy="316.4" r="6.35" fill="#6a72ba" fill-opacity="0.72"/>
<circle cx="1023.0" cy="339.6" r="6.35" fill="#6a72ba" fill-opacity="0.72"/>
<circle cx="1023.0" cy="385.6" r="6.35" fill="#6a72ba" fill-opacity="0.72"/>
<circle cx="1023.0" cy="450.4" r="6.35" fill="#6a72ba" fill-opacity="0.72"/>
<circle cx="1023.0" cy="473.4" r="6.35" fill="#6a72ba" fill-opacity="0.72"/>
<circle cx="1014.8" cy="482.6" r="6.35" fill="#6a72ba" fill-opacity="0.72"/>
<circle cx="1023.0" cy="491.6" r="6.35" fill="#6a72ba" fill-opacity="0.72"/>
<circle cx="1031.2" cy="492.2" r="6.35" fill="#6a72ba" fill-opacity="0.72"/>
<circle cx="1023.0" cy="496.6" r="6.35" fill="#6a72ba" fill-opacity="0.72"/>
<circle cx="1018.8" cy="510.2" r="6.35" fill="#6a72ba" fill-opacity="0.72"/>
<circle cx="1027.0" cy="510.2" r="6.35" fill="#6a72ba" fill-opacity="0.72"/>
<circle cx="1006.2" cy="524.0" r="6.35" fill="#6a72ba" fill-opacity="0.72"/>
<circle cx="1014.8" cy="524.0" r="6.35" fill="#6a72ba" fill-opacity="0.72"/>
<circle cx="1023.0" cy="524.0" r="6.35" fill="#6a72ba" fill-opacity="0.72"/>
<circle cx="1031.2" cy="524.0" r="6.35" fill="#6a72ba" fill-opacity="0.72"/>
<circle cx="1047.8" cy="524.0" r="6.35" fill="#6a72ba" fill-opacity="0.72"/>
<circle cx="998.0" cy="528.6" r="6.35" fill="#6a72ba" fill-opacity="0.72"/>
<circle cx="1039.4" cy="530.4" r="6.35" fill="#6a72ba" fill-opacity="0.72"/>
<circle cx="1006.2" cy="533.4" r="6.35" fill="#6a72ba" fill-opacity="0.72"/>
<circle cx="1014.8" cy="533.4" r="6.35" fill="#6a72ba" fill-opacity="0.72"/>
<circle cx="1031.2" cy="533.4" r="6.35" fill="#6a72ba" fill-opacity="0.72"/>
<circle cx="1039.4" cy="533.4" r="6.35" fill="#6a72ba" fill-opacity="0.72"/>
<circle cx="1023.0" cy="538.0" r="6.35" fill="#6a72ba" fill-opacity="0.72"/>
<circle cx="1027.0" cy="547.4" r="6.35" fill="#6a72ba" fill-opacity="0.72"/>
<circle cx="1018.8" cy="556.4" r="6.35" fill="#6a72ba" fill-opacity="0.72"/>
<circle cx="1018.8" cy="560.0" r="6.35" fill="#6a72ba" fill-opacity="0.72"/>
<circle cx="1027.0" cy="565.6" r="6.35" fill="#6a72ba" fill-opacity="0.72"/>
<circle cx="1035.2" cy="565.6" r="6.35" fill="#6a72ba" fill-opacity="0.72"/>
<circle cx="1010.6" cy="570.6" r="6.35" fill="#6a72ba" fill-opacity="0.72"/>
<rect x="1110.0" y="130.9" width="12.8" height="12.8" fill="#f76f48" fill-opacity="0.72"/>
<rect x="1110.0" y="254.6" width="12.8" height="12.8" fill="#f76f48" fill-opacity="0.72"/>
<rect x="1110.0" y="337.8" width="12.8" height="12.8" fill="#f76f48" fill-opacity="0.72"/>
<rect x="1110.0" y="471.8" width="12.8" height="12.8" fill="#f76f48" fill-opacity="0.72"/>
<circle cx="1210.0" cy="279.4" r="6.35" fill="#6fc46a" fill-opacity="0.72"/>
<circle cx="1210.0" cy="302.6" r="6.35" fill="#6fc46a" fill-opacity="0.72"/>
<circle cx="1210.0" cy="367.2" r="6.35" fill="#6fc46a" fill-opacity="0.72"/>
<circle cx="1210.0" cy="390.0" r="6.35" fill="#6fc46a" fill-opacity="0.72"/>
<circle cx="1201.8" cy="403.8" r="6.35" fill="#6fc46a" fill-opacity="0.72"/>
<circle cx="1185.4" cy="413.0" r="6.35" fill="#6fc46a" fill-opacity="0.72"/>
<circle cx="1235.0" cy="413.0" r="6.35" fill="#6fc46a" fill-opacity="0.72"/>
<circle cx="1218.2" cy="417.4" r="6.35" fill="#6fc46a" fill-opacity="0.72"/>
<circle cx="1193.6" cy="432.0" r="6.35" fill="#6fc46a" fill-opacity="0.72"/>
<circle cx="1210.0" cy="432.0" r="6.35" fill="#6fc46a" fill-opacity="0.72"/>
<circle cx="1226.4" cy="432.0" r="6.35" fill="#6fc46a" fill-opacity="0.72"/>
<circle cx="1210.0" cy="459.6" r="6.35" fill="#6fc46a" fill-opacity="0.72"/>
<circle cx="1201.8" cy="478.0" r="6.35" fill="#6fc46a" fill-opacity="0.72"/>
<circle cx="1218.2" cy="478.0" r="6.35" fill="#6fc46a" fill-opacity="0.72"/>
<circle cx="1185.4" cy="487.4" r="6.35" fill="#6fc46a" fill-opacity="0.72"/>
<circle cx="1235.0" cy="487.4" r="6.35" fill="#6fc46a" fill-opacity="0.72"/>
<circle cx="1201.8" cy="492.0" r="6.35" fill="#6fc46a" fill-opacity="0.72"/>
<circle cx="1218.2" cy="492.0" r="6.35" fill="#6fc46a" fill-opacity="0.72"/>
<circle cx="1210.0" cy="505.6" r="6.35" fill="#6fc46a" fill-opacity="0.72"/>
<circle cx="1210.0" cy="533.4" r="6.35" fill="#6fc46a" fill-opacity="0.72"/>
<circle cx="1210.0" cy="551.8" r="6.35" fill="#6fc46a" fill-opacity="0.72"/>
<circle cx="1210.0" cy="565.6" r="6.35" fill="#6fc46a" fill-opacity="0.72"/>
<line x1="992.0" y1="524.3" x2="1054.0" y2="524.3" stroke="#000" stroke-opacity="0.5" stroke-width="1.7"/>
<line x1="1085.4" y1="302.4" x2="1147.6" y2="302.4" stroke="#000" stroke-opacity="0.5" stroke-width="1.7"/>
<line x1="1179.0" y1="445.6" x2="1241.0" y2="445.6" stroke="#000" stroke-opacity="0.5" stroke-width="1.7"/>
<text transform="translate(1368.98 31.2) scale(1.0744 1)" font-size="27.8" font-weight="bold" fill="#222222">Eosinophil Percentage</text>
<line x1="1368.8" y1="102.3" x2="1368.8" y2="217.7" stroke="#1a1a1a" stroke-width="2" stroke-linecap="butt"/>
<line x1="1365.4" y1="217.7" x2="1372.2" y2="217.7" stroke="#1a1a1a" stroke-width="1.6" stroke-linecap="butt"/>
<line x1="1368.8" y1="227.7" x2="1368.8" y2="570.4" stroke="#1a1a1a" stroke-width="2" stroke-linecap="butt"/>
<line x1="1365.4" y1="227.7" x2="1372.2" y2="227.7" stroke="#1a1a1a" stroke-width="1.6" stroke-linecap="butt"/>
<line x1="1363.2" y1="103.3" x2="1368.8" y2="103.3" stroke="#1a1a1a" stroke-width="1.8" stroke-linecap="butt"/>
<line x1="1363.2" y1="258.4" x2="1368.8" y2="258.4" stroke="#1a1a1a" stroke-width="1.8" stroke-linecap="butt"/>
<line x1="1363.2" y1="414.4" x2="1368.8" y2="414.4" stroke="#1a1a1a" stroke-width="1.8" stroke-linecap="butt"/>
<line x1="1365.4" y1="126.2" x2="1368.8" y2="126.2" stroke="#1a1a1a" stroke-width="1.5" stroke-linecap="butt"/>
<line x1="1365.4" y1="149.0" x2="1368.8" y2="149.0" stroke="#1a1a1a" stroke-width="1.5" stroke-linecap="butt"/>
<line x1="1365.4" y1="171.9" x2="1368.8" y2="171.9" stroke="#1a1a1a" stroke-width="1.5" stroke-linecap="butt"/>
<line x1="1365.4" y1="194.7" x2="1368.8" y2="194.7" stroke="#1a1a1a" stroke-width="1.5" stroke-linecap="butt"/>
<line x1="1365.4" y1="554.8" x2="1368.8" y2="554.8" stroke="#1a1a1a" stroke-width="1.5" stroke-linecap="butt"/>
<line x1="1365.4" y1="539.2" x2="1368.8" y2="539.2" stroke="#1a1a1a" stroke-width="1.5" stroke-linecap="butt"/>
<line x1="1365.4" y1="523.6" x2="1368.8" y2="523.6" stroke="#1a1a1a" stroke-width="1.5" stroke-linecap="butt"/>
<line x1="1365.4" y1="508.0" x2="1368.8" y2="508.0" stroke="#1a1a1a" stroke-width="1.5" stroke-linecap="butt"/>
<line x1="1365.4" y1="492.4" x2="1368.8" y2="492.4" stroke="#1a1a1a" stroke-width="1.5" stroke-linecap="butt"/>
<line x1="1365.4" y1="476.8" x2="1368.8" y2="476.8" stroke="#1a1a1a" stroke-width="1.5" stroke-linecap="butt"/>
<line x1="1365.4" y1="461.2" x2="1368.8" y2="461.2" stroke="#1a1a1a" stroke-width="1.5" stroke-linecap="butt"/>
<line x1="1365.4" y1="445.6" x2="1368.8" y2="445.6" stroke="#1a1a1a" stroke-width="1.5" stroke-linecap="butt"/>
<line x1="1365.4" y1="430.0" x2="1368.8" y2="430.0" stroke="#1a1a1a" stroke-width="1.5" stroke-linecap="butt"/>
<line x1="1365.4" y1="398.8" x2="1368.8" y2="398.8" stroke="#1a1a1a" stroke-width="1.5" stroke-linecap="butt"/>
<line x1="1365.4" y1="383.2" x2="1368.8" y2="383.2" stroke="#1a1a1a" stroke-width="1.5" stroke-linecap="butt"/>
<line x1="1365.4" y1="367.6" x2="1368.8" y2="367.6" stroke="#1a1a1a" stroke-width="1.5" stroke-linecap="butt"/>
<line x1="1365.4" y1="352.0" x2="1368.8" y2="352.0" stroke="#1a1a1a" stroke-width="1.5" stroke-linecap="butt"/>
<line x1="1365.4" y1="336.4" x2="1368.8" y2="336.4" stroke="#1a1a1a" stroke-width="1.5" stroke-linecap="butt"/>
<line x1="1365.4" y1="320.8" x2="1368.8" y2="320.8" stroke="#1a1a1a" stroke-width="1.5" stroke-linecap="butt"/>
<line x1="1365.4" y1="305.2" x2="1368.8" y2="305.2" stroke="#1a1a1a" stroke-width="1.5" stroke-linecap="butt"/>
<line x1="1365.4" y1="289.6" x2="1368.8" y2="289.6" stroke="#1a1a1a" stroke-width="1.5" stroke-linecap="butt"/>
<line x1="1365.4" y1="274.0" x2="1368.8" y2="274.0" stroke="#1a1a1a" stroke-width="1.5" stroke-linecap="butt"/>
<line x1="1365.4" y1="242.8" x2="1368.8" y2="242.8" stroke="#1a1a1a" stroke-width="1.5" stroke-linecap="butt"/>
<line x1="1363.6" y1="570.4" x2="1693.0" y2="570.4" stroke="#1a1a1a" stroke-width="1.8" stroke-linecap="butt"/>
<line x1="1432.6" y1="570.4" x2="1432.6" y2="575.6" stroke="#1a1a1a" stroke-width="1.8" stroke-linecap="butt"/>
<line x1="1530.2" y1="570.4" x2="1530.2" y2="575.6" stroke="#1a1a1a" stroke-width="1.8" stroke-linecap="butt"/>
<line x1="1627.4" y1="570.4" x2="1627.4" y2="575.6" stroke="#1a1a1a" stroke-width="1.8" stroke-linecap="butt"/>
<text transform="translate(1331.87 113.81) scale(1.0000 1)" font-size="26.2" font-weight="bold" fill="#222222">30</text>
<text transform="translate(1331.87 268.41) scale(1.0000 1)" font-size="26.2" font-weight="bold" fill="#222222">10</text>
<text transform="translate(1346.08 425.01) scale(1.0000 1)" font-size="26.2" font-weight="bold" fill="#222222">5</text>
<text transform="translate(1346.41 580.71) scale(1.0000 1)" font-size="26.2" font-weight="bold" fill="#222222">0</text>
<text transform="translate(1321.2 370.49) rotate(-90) scale(0.9179 1)" font-size="30.5" font-weight="bold" fill="#222222">Eos %</text>
<text x="1442.6" y="596.0" font-size="26.2" font-weight="bold" text-anchor="end" transform="rotate(-45 1442.6 596.0)" fill="#222222">AA</text>
<text x="1539.2" y="596.0" font-size="26.2" font-weight="bold" text-anchor="end" transform="rotate(-45 1539.2 596.0)" fill="#222222">As</text>
<text x="1637.0" y="596.0" font-size="26.2" font-weight="bold" text-anchor="end" transform="rotate(-45 1637.0 596.0)" fill="#222222">CA</text>
<path d="M1427.7 100.2V83.3H1625.4V100.2" fill="none" stroke="#3a3a3a" stroke-width="1.4" stroke-linejoin="miter"/>
<text transform="translate(1487.5 72.8) scale(1.0426 1)" font-size="17.4" fill="#222222">P<tspan dy="3.91" font-size="14.09">adj</tspan><tspan dy="-3.91">=0.07</tspan></text>
<path d="M1427.7 316.7V128.0H1527.3V134.3" fill="none" stroke="#3a3a3a" stroke-width="1.4" stroke-linejoin="miter"/>
<path d="M1534.3 134.3V128.0H1625.7V241.7" fill="none" stroke="#3a3a3a" stroke-width="1.4" stroke-linejoin="miter"/>
<text transform="translate(1437.93 117) scale(1.0268 1)" font-size="17.4" fill="#222222">P<tspan dy="3.91" font-size="14.09">adj</tspan><tspan dy="-3.91">=0.01</tspan></text>
<text transform="translate(1539.24 117) scale(1.0856 1)" font-size="17.4" fill="#222222">P<tspan dy="3.91" font-size="14.09">adj</tspan><tspan dy="-3.91">=0.27</tspan></text>
<line x1="1400.4" y1="506.5" x2="1465.2" y2="506.5" stroke="#0a0a0a" stroke-width="1.7" stroke-linecap="butt"/>
<line x1="1498.3" y1="351.0" x2="1562.3" y2="351.0" stroke="#0a0a0a" stroke-width="1.7" stroke-linecap="butt"/>
<line x1="1595.0" y1="449.0" x2="1660.0" y2="449.0" stroke="#0a0a0a" stroke-width="1.7" stroke-linecap="butt"/>
<circle cx="1427.7" cy="336.7" r="6.55" fill="#6a72ba" fill-opacity="0.72"/>
<circle cx="1437.7" cy="346.0" r="6.55" fill="#6a72ba" fill-opacity="0.72"/>
<circle cx="1427.7" cy="352.7" r="6.55" fill="#6a72ba" fill-opacity="0.72"/>
<circle cx="1437.7" cy="383.3" r="6.55" fill="#6a72ba" fill-opacity="0.72"/>
<circle cx="1427.7" cy="392.3" r="6.55" fill="#6a72ba" fill-opacity="0.72"/>
<circle cx="1432.6" cy="430.4" r="6.55" fill="#6a72ba" fill-opacity="0.72"/>
<circle cx="1427.4" cy="461.6" r="6.55" fill="#6a72ba" fill-opacity="0.72"/>
<circle cx="1438.0" cy="464.6" r="6.55" fill="#6a72ba" fill-opacity="0.72"/>
<circle cx="1407.0" cy="483.0" r="6.55" fill="#6a72ba" fill-opacity="0.72"/>
<circle cx="1417.2" cy="482.6" r="6.55" fill="#6a72ba" fill-opacity="0.72"/>
<circle cx="1427.4" cy="489.2" r="6.55" fill="#6a72ba" fill-opacity="0.72"/>
<circle cx="1438.0" cy="495.4" r="6.55" fill="#6a72ba" fill-opacity="0.72"/>
<circle cx="1458.6" cy="495.4" r="6.55" fill="#6a72ba" fill-opacity="0.72"/>
<circle cx="1407.0" cy="501.6" r="6.55" fill="#6a72ba" fill-opacity="0.72"/>
<circle cx="1427.4" cy="505.0" r="6.55" fill="#6a72ba" fill-opacity="0.72"/>
<circle cx="1448.0" cy="507.6" r="6.55" fill="#6a72ba" fill-opacity="0.72"/>
<circle cx="1417.2" cy="511.4" r="6.55" fill="#6a72ba" fill-opacity="0.72"/>
<circle cx="1458.6" cy="511.0" r="6.55" fill="#6a72ba" fill-opacity="0.72"/>
<circle cx="1438.0" cy="514.4" r="6.55" fill="#6a72ba" fill-opacity="0.72"/>
<circle cx="1427.4" cy="523.6" r="6.55" fill="#6a72ba" fill-opacity="0.72"/>
<circle cx="1407.0" cy="539.4" r="6.55" fill="#6a72ba" fill-opacity="0.72"/>
<circle cx="1417.2" cy="536.4" r="6.55" fill="#6a72ba" fill-opacity="0.72"/>
<circle cx="1427.4" cy="542.6" r="6.55" fill="#6a72ba" fill-opacity="0.72"/>
<circle cx="1458.6" cy="539.4" r="6.55" fill="#6a72ba" fill-opacity="0.72"/>
<circle cx="1417.2" cy="551.8" r="6.55" fill="#6a72ba" fill-opacity="0.72"/>
<circle cx="1438.0" cy="555.0" r="6.55" fill="#6a72ba" fill-opacity="0.72"/>
<circle cx="1458.6" cy="558.2" r="6.55" fill="#6a72ba" fill-opacity="0.72"/>
<circle cx="1407.0" cy="561.2" r="6.55" fill="#6a72ba" fill-opacity="0.72"/>
<circle cx="1427.4" cy="561.2" r="6.55" fill="#6a72ba" fill-opacity="0.72"/>
<circle cx="1448.0" cy="564.6" r="6.55" fill="#6a72ba" fill-opacity="0.72"/>
<rect x="1523.6" y="138.4" width="13.2" height="13.2" fill="#f76f48" fill-opacity="0.72"/>
<rect x="1523.6" y="308.4" width="13.2" height="13.2" fill="#f76f48" fill-opacity="0.72"/>
<rect x="1523.6" y="380.1" width="13.2" height="13.2" fill="#f76f48" fill-opacity="0.72"/>
<rect x="1523.6" y="430.0" width="13.2" height="13.2" fill="#f76f48" fill-opacity="0.72"/>
<circle cx="1619.0" cy="256.0" r="6.55" fill="#6fc46a" fill-opacity="0.72"/>
<circle cx="1636.0" cy="256.0" r="6.55" fill="#6fc46a" fill-opacity="0.72"/>
<circle cx="1610.3" cy="367.7" r="6.55" fill="#6fc46a" fill-opacity="0.72"/>
<circle cx="1627.3" cy="364.3" r="6.55" fill="#6fc46a" fill-opacity="0.72"/>
<circle cx="1644.3" cy="364.3" r="6.55" fill="#6fc46a" fill-opacity="0.72"/>
<circle cx="1601.7" cy="399.0" r="6.55" fill="#6fc46a" fill-opacity="0.72"/>
<circle cx="1619.0" cy="405.0" r="6.55" fill="#6fc46a" fill-opacity="0.72"/>
<circle cx="1653.0" cy="401.7" r="6.55" fill="#6fc46a" fill-opacity="0.72"/>
<circle cx="1627.4" cy="433.0" r="6.55" fill="#6fc46a" fill-opacity="0.72"/>
<circle cx="1601.6" cy="452.0" r="6.55" fill="#6fc46a" fill-opacity="0.72"/>
<circle cx="1618.8" cy="449.0" r="6.55" fill="#6fc46a" fill-opacity="0.72"/>
<circle cx="1636.0" cy="449.0" r="6.55" fill="#6fc46a" fill-opacity="0.72"/>
<circle cx="1653.4" cy="449.0" r="6.55" fill="#6fc46a" fill-opacity="0.72"/>
<circle cx="1618.8" cy="477.0" r="6.55" fill="#6fc46a" fill-opacity="0.72"/>
<circle cx="1601.6" cy="486.2" r="6.55" fill="#6fc46a" fill-opacity="0.72"/>
<circle cx="1653.4" cy="486.2" r="6.55" fill="#6fc46a" fill-opacity="0.72"/>
<circle cx="1636.0" cy="495.6" r="6.55" fill="#6fc46a" fill-opacity="0.72"/>
<circle cx="1618.8" cy="505.0" r="6.55" fill="#6fc46a" fill-opacity="0.72"/>
<circle cx="1618.8" cy="526.6" r="6.55" fill="#6fc46a" fill-opacity="0.72"/>
<circle cx="1636.0" cy="523.8" r="6.55" fill="#6fc46a" fill-opacity="0.72"/>
<circle cx="1627.4" cy="548.8" r="6.55" fill="#6fc46a" fill-opacity="0.72"/>
<circle cx="1627.4" cy="567.4" r="6.55" fill="#6fc46a" fill-opacity="0.72"/>
<line x1="1400.4" y1="506.5" x2="1465.2" y2="506.5" stroke="#000" stroke-opacity="0.5" stroke-width="1.7"/>
<line x1="1498.3" y1="351.0" x2="1562.3" y2="351.0" stroke="#000" stroke-opacity="0.5" stroke-width="1.7"/>
<line x1="1595.0" y1="449.0" x2="1660.0" y2="449.0" stroke="#000" stroke-opacity="0.5" stroke-width="1.7"/>
<rect x="43.80" y="669.70" width="746.80" height="20.90" fill="#95addb"/>
<rect x="794.50" y="669.70" width="110.00" height="20.90" fill="#f5b18d"/>
<rect x="908.30" y="669.70" width="565.90" height="20.90" fill="#99cd5d"/>
<text transform="translate(342.16 663.7) scale(0.7970 1)" font-size="19.8" fill="#111" stroke="#111" stroke-width="0.35">African American</text>
<text transform="translate(836.96 666.2) scale(0.7777 1)" font-size="19.4" fill="#111" stroke="#111" stroke-width="0.35">Asian</text>
<text transform="translate(1193.55 663.3) scale(0.7704 1)" font-size="19.4" fill="#111" stroke="#111" stroke-width="0.35">Caucasian</text>
<rect x="43.80" y="691.75" width="25.89" height="26.80" fill="#bddb4f"/>
<rect x="43.80" y="718.10" width="25.89" height="27.40" fill="#fbee5a"/>
<rect x="68.69" y="691.75" width="25.89" height="26.80" fill="#bddb4f"/>
<rect x="68.69" y="718.10" width="25.89" height="27.40" fill="#e9e95a"/>
<rect x="93.59" y="691.75" width="25.89" height="26.80" fill="#fdee55"/>
<rect x="93.59" y="718.10" width="25.89" height="27.40" fill="#ebea5a"/>
<rect x="118.48" y="691.75" width="25.89" height="26.80" fill="#dde55a"/>
<rect x="118.48" y="718.10" width="25.89" height="27.40" fill="#eeea5a"/>
<rect x="143.37" y="691.75" width="25.89" height="26.80" fill="#fbd24e"/>
<rect x="143.37" y="718.10" width="25.89" height="27.40" fill="#efea5a"/>
<rect x="168.27" y="691.75" width="25.89" height="26.80" fill="#f7ee5c"/>
<rect x="168.27" y="718.10" width="25.89" height="27.40" fill="#f0eb5a"/>
<rect x="193.16" y="691.75" width="25.89" height="26.80" fill="#e8e95a"/>
<rect x="193.16" y="718.10" width="25.89" height="27.40" fill="#f0eb5a"/>
<rect x="218.05" y="691.75" width="25.89" height="26.80" fill="#f0eb5a"/>
<rect x="218.05" y="718.10" width="25.89" height="27.40" fill="#eeea5a"/>
<rect x="242.95" y="691.75" width="25.89" height="26.80" fill="#fbeb50"/>
<rect x="242.95" y="718.10" width="25.89" height="27.40" fill="#e9e95a"/>
<rect x="267.84" y="691.75" width="25.89" height="26.80" fill="#ebea5a"/>
<rect x="267.84" y="718.10" width="25.89" height="27.40" fill="#eeea5a"/>
<rect x="292.73" y="691.75" width="25.89" height="26.80" fill="#fcd94f"/>
<rect x="292.73" y="718.10" width="25.89" height="27.40" fill="#e9e95a"/>
<rect x="317.63" y="691.75" width="25.89" height="26.80" fill="#f5bc46"/>
<rect x="317.63" y="718.10" width="25.89" height="27.40" fill="#fdee55"/>
<rect x="342.52" y="691.75" width="25.89" height="26.80" fill="#cfe055"/>
<rect x="342.52" y="718.10" width="25.89" height="27.40" fill="#ebea5a"/>
<rect x="367.41" y="691.75" width="25.89" height="26.80" fill="#d6e257"/>
<rect x="367.41" y="718.10" width="25.89" height="27.40" fill="#ecea5a"/>
<rect x="392.31" y="691.75" width="25.89" height="26.80" fill="#cfe055"/>
<rect x="392.31" y="718.10" width="25.89" height="27.40" fill="#efea5a"/>
<rect x="417.20" y="691.75" width="25.89" height="26.80" fill="#e3e75a"/>
<rect x="417.20" y="718.10" width="25.89" height="27.40" fill="#faee5a"/>
<rect x="442.09" y="691.75" width="25.89" height="26.80" fill="#bfdb50"/>
<rect x="442.09" y="718.10" width="25.89" height="27.40" fill="#e6e85a"/>
<rect x="466.99" y="691.75" width="25.89" height="26.80" fill="#e3e75a"/>
<rect x="466.99" y="718.10" width="25.89" height="27.40" fill="#f7ed5a"/>
<rect x="491.88" y="691.75" width="25.89" height="26.80" fill="#d3e158"/>
<rect x="491.88" y="718.10" width="25.89" height="27.40" fill="#f1eb5a"/>
<rect x="516.77" y="691.75" width="25.89" height="26.80" fill="#e0e65a"/>
<rect x="516.77" y="718.10" width="25.89" height="27.40" fill="#eeea5a"/>
<rect x="541.67" y="691.75" width="25.89" height="26.80" fill="#e4e75a"/>
<rect x="541.67" y="718.10" width="25.89" height="27.40" fill="#efea5a"/>
<rect x="566.56" y="691.75" width="25.89" height="26.80" fill="#d3e158"/>
<rect x="566.56" y="718.10" width="25.89" height="27.40" fill="#efea5a"/>
<rect x="591.45" y="691.75" width="25.89" height="26.80" fill="#e9e95a"/>
<rect x="591.45" y="718.10" width="25.89" height="27.40" fill="#eeea5a"/>
<rect x="616.35" y="691.75" width="25.89" height="26.80" fill="#ecea5a"/>
<rect x="616.35" y="718.10" width="25.89" height="27.40" fill="#efea5a"/>
<rect x="641.24" y="691.75" width="25.89" height="26.80" fill="#d3e158"/>
<rect x="641.24" y="718.10" width="25.89" height="27.40" fill="#efea5a"/>
<rect x="666.13" y="691.75" width="25.89" height="26.80" fill="#e6e85a"/>
<rect x="666.13" y="718.10" width="25.89" height="27.40" fill="#eeea5a"/>
<rect x="691.03" y="691.75" width="25.89" height="26.80" fill="#d6e257"/>
<rect x="691.03" y="718.10" width="25.89" height="27.40" fill="#efea5a"/>
<rect x="715.92" y="691.75" width="25.89" height="26.80" fill="#d6e257"/>
<rect x="715.92" y="718.10" width="25.89" height="27.40" fill="#efea5a"/>
<rect x="740.81" y="691.75" width="25.89" height="26.80" fill="#ebea5a"/>
<rect x="740.81" y="718.10" width="25.89" height="27.40" fill="#f0eb5a"/>
<rect x="765.71" y="691.75" width="25.89" height="26.80" fill="#fbec52"/>
<rect x="765.71" y="718.10" width="25.89" height="27.40" fill="#f0eb5a"/>
<rect x="790.60" y="669.00" width="3.90" height="80.00" fill="#ffffff"/>
<rect x="794.50" y="691.75" width="28.50" height="26.80" fill="#fdee52"/>
<rect x="794.50" y="718.20" width="28.50" height="27.10" fill="#f8ee5a"/>
<rect x="822.00" y="691.75" width="28.50" height="26.80" fill="#fbee55"/>
<rect x="822.00" y="718.20" width="28.50" height="27.10" fill="#f8ee5a"/>
<rect x="849.50" y="691.75" width="28.50" height="26.80" fill="#fbd84e"/>
<rect x="849.50" y="718.20" width="28.50" height="27.10" fill="#f8ee5a"/>
<rect x="877.00" y="691.75" width="27.50" height="26.80" fill="#f29a40"/>
<rect x="877.00" y="718.20" width="27.50" height="27.10" fill="#ea4335"/>
<rect x="904.50" y="669.00" width="3.80" height="80.00" fill="#ffffff"/>
<rect x="908.30" y="691.75" width="22.00" height="27.80" fill="#f29c42"/>
<rect x="908.30" y="719.20" width="22.00" height="28.00" fill="#f3ec5a"/>
<rect x="929.30" y="691.75" width="26.95" height="27.80" fill="#fbee58"/>
<rect x="929.30" y="719.20" width="26.95" height="28.00" fill="#e9e95a"/>
<rect x="955.25" y="691.75" width="26.95" height="27.80" fill="#fbee58"/>
<rect x="955.25" y="719.20" width="26.95" height="28.00" fill="#f6ed5a"/>
<rect x="981.20" y="691.75" width="26.95" height="27.80" fill="#c3dc52"/>
<rect x="981.20" y="719.20" width="26.95" height="28.00" fill="#e6e85a"/>
<rect x="1007.15" y="691.75" width="26.95" height="27.80" fill="#fbd24e"/>
<rect x="1007.15" y="719.20" width="26.95" height="28.00" fill="#f8ee5a"/>
<rect x="1033.10" y="691.75" width="26.95" height="27.80" fill="#f9c74a"/>
<rect x="1033.10" y="719.20" width="26.95" height="28.00" fill="#f8ee5a"/>
<rect x="1059.05" y="691.75" width="26.95" height="27.80" fill="#f8ee5c"/>
<rect x="1059.05" y="719.20" width="26.95" height="28.00" fill="#f3ec5a"/>
<rect x="1085.00" y="691.75" width="26.95" height="27.80" fill="#fbd450"/>
<rect x="1085.00" y="719.20" width="26.95" height="28.00" fill="#efea5a"/>
<rect x="1110.95" y="691.75" width="26.95" height="27.80" fill="#f5ec5a"/>
<rect x="1110.95" y="719.20" width="26.95" height="28.00" fill="#f3ec5a"/>
<rect x="1136.90" y="691.75" width="26.95" height="27.80" fill="#e6e85a"/>
<rect x="1136.90" y="719.20" width="26.95" height="28.00" fill="#f8ee5a"/>
<rect x="1162.85" y="691.75" width="26.95" height="27.80" fill="#fde950"/>
<rect x="1162.85" y="719.20" width="26.95" height="28.00" fill="#ebea5a"/>
<rect x="1188.80" y="691.75" width="26.95" height="27.80" fill="#f6bb48"/>
<rect x="1188.80" y="719.20" width="26.95" height="28.00" fill="#eeea5a"/>
<rect x="1214.75" y="691.75" width="26.95" height="27.80" fill="#c6dd52"/>
<rect x="1214.75" y="719.20" width="26.95" height="28.00" fill="#e9e95a"/>
<rect x="1240.70" y="691.75" width="26.95" height="27.80" fill="#f6ec5a"/>
<rect x="1240.70" y="719.20" width="26.95" height="28.00" fill="#ee6a38"/>
<rect x="1266.65" y="691.75" width="26.95" height="27.80" fill="#ecea5a"/>
<rect x="1266.65" y="719.20" width="26.95" height="28.00" fill="#f3ec5a"/>
<rect x="1292.60" y="691.75" width="26.95" height="27.80" fill="#f9ee5a"/>
<rect x="1292.60" y="719.20" width="26.95" height="28.00" fill="#f3ec5a"/>
<rect x="1318.55" y="691.75" width="26.95" height="27.80" fill="#f3a142"/>
<rect x="1318.55" y="719.20" width="26.95" height="28.00" fill="#eeea5a"/>
<rect x="1344.50" y="691.75" width="26.95" height="27.80" fill="#f8ec55"/>
<rect x="1344.50" y="719.20" width="26.95" height="28.00" fill="#f8ee5a"/>
<rect x="1370.45" y="691.75" width="26.95" height="27.80" fill="#f3a344"/>
<rect x="1370.45" y="719.20" width="26.95" height="28.00" fill="#f8ee5a"/>
<rect x="1396.40" y="691.75" width="26.95" height="27.80" fill="#dde55a"/>
<rect x="1396.40" y="719.20" width="26.95" height="28.00" fill="#f3ec5a"/>
<rect x="1422.35" y="691.75" width="26.95" height="27.80" fill="#fce850"/>
<rect x="1422.35" y="719.20" width="26.95" height="28.00" fill="#f3ec5a"/>
<rect x="1448.30" y="691.75" width="25.90" height="27.80" fill="#f6bc48"/>
<rect x="1448.30" y="719.20" width="25.90" height="28.00" fill="#fcdc50"/>
<rect x="1474.20" y="669.00" width="3.30" height="80.00" fill="#ffffff"/>
<rect x="1477.50" y="692.00" width="19.50" height="55.50" fill="#ef9040"/>
<text transform="translate(1499.66 709.4) scale(0.8385 1)" font-size="22.3" fill="#1c1c1c" stroke="#111" stroke-width="0.35">Eotaxin</text>
<text transform="translate(1499.67 741) scale(0.8339 1)" font-size="22.3" fill="#1c1c1c" stroke="#111" stroke-width="0.35">Eotaxin-3</text>
<defs><linearGradient id="kg" x1="0" x2="1" y1="0" y2="0"><stop offset="0" stop-color="#6abd4c"/><stop offset="0.19" stop-color="#8cc54c"/><stop offset="0.37" stop-color="#c0d748"/><stop offset="0.47" stop-color="#e8e645"/><stop offset="0.53" stop-color="#ffee30"/><stop offset="0.61" stop-color="#fdc832"/><stop offset="0.72" stop-color="#f89a35"/><stop offset="0.83" stop-color="#f2603a"/><stop offset="0.93" stop-color="#ee4136"/><stop offset="1" stop-color="#ee3d35"/></linearGradient></defs>
<rect x="1624.7" y="656.3" width="140.1" height="60.5" fill="url(#kg)"/>
<line x1="1624.7" y1="656.3" x2="1624.7" y2="717.3" stroke="#3a3a3a" stroke-width="1" stroke-linecap="butt"/>
<line x1="1618.5" y1="716.8" x2="1765.0" y2="716.8" stroke="#3a3a3a" stroke-width="1" stroke-linecap="butt"/>
<line x1="1618.7" y1="663.2" x2="1624.7" y2="663.2" stroke="#3a3a3a" stroke-width="1" stroke-linecap="butt"/>
<line x1="1618.7" y1="673.8" x2="1624.7" y2="673.8" stroke="#3a3a3a" stroke-width="1" stroke-linecap="butt"/>
<line x1="1618.7" y1="684.4" x2="1624.7" y2="684.4" stroke="#3a3a3a" stroke-width="1" stroke-linecap="butt"/>
<line x1="1618.7" y1="695.6" x2="1624.7" y2="695.6" stroke="#3a3a3a" stroke-width="1" stroke-linecap="butt"/>
<line x1="1618.7" y1="706.2" x2="1624.7" y2="706.2" stroke="#3a3a3a" stroke-width="1" stroke-linecap="butt"/>
<line x1="1618.7" y1="716.8" x2="1624.7" y2="716.8" stroke="#3a3a3a" stroke-width="1" stroke-linecap="butt"/>
<line x1="1650.4" y1="716.8" x2="1650.4" y2="724.2" stroke="#3a3a3a" stroke-width="1" stroke-linecap="butt"/>
<line x1="1694.5" y1="716.8" x2="1694.5" y2="724.2" stroke="#3a3a3a" stroke-width="1" stroke-linecap="butt"/>
<line x1="1738.6" y1="716.8" x2="1738.6" y2="724.2" stroke="#3a3a3a" stroke-width="1" stroke-linecap="butt"/>
<polyline fill="none" stroke="#68c8d0" stroke-width="1.5" stroke-linejoin="round" points="1679.6,716.7 1680.1,714.2 1681.1,714.7 1682.1,716.7 1683.5,712.7 1684.3,708.8 1685.3,704.9 1686.3,699.0 1687.1,694.1 1687.8,701.0 1688.6,696.1 1689.4,691.2 1690.2,685.3 1690.8,679.4 1691.4,669.6 1691.9,661.8 1692.4,657.4 1692.7,667.6 1693.1,679.4 1693.7,692.2 1694.3,693.6 1695.1,696.1 1695.9,699.0 1696.7,701.0 1697.3,704.9 1697.8,707.4 1698.6,709.8 1699.6,711.3 1701.2,712.7 1702.7,711.8 1704.1,709.8 1704.9,712.3 1706.1,711.3 1707.3,712.3 1708.5,714.2 1710.0,715.2 1712.0,714.7 1713.9,715.5 1715.9,714.2 1717.8,715.5 1719.8,714.9 1722.7,715.9 1726.7,716.1 1730.6,715.7 1734.5,716.1 1738.4,715.7 1741.4,716.3 1746.3,716.5 1750.2,716.3 1752.2,715.5 1753.6,716.5 1758.0,716.7 1763.9,716.7 1764.9,716.1"/>
<line x1="1764.6" y1="656.4" x2="1764.6" y2="717.2" stroke="#8a5a50" stroke-width="0.8" stroke-linecap="butt"/>
<rect x="1709.50" y="656.30" width="4.00" height="1.40" fill="#4a4a3a"/>
<text x="1610.5" y="716.8" font-size="10" text-anchor="middle" transform="rotate(-90 1610.5 716.8)" fill="#3a3a3a">0</text>
<text x="1610.5" y="695.6" font-size="10" text-anchor="middle" transform="rotate(-90 1610.5 695.6)" fill="#3a3a3a">20</text>
<text x="1610.5" y="663.7" font-size="10" text-anchor="middle" transform="rotate(-90 1610.5 663.7)" fill="#3a3a3a">50</text>
<text x="1600.0" y="685.8" font-size="7.6" text-anchor="middle" transform="rotate(-90 1600.0 685.8)" fill="#3a3a3a">Count</text>
<text x="1650.4" y="743.0" font-size="11.4" text-anchor="middle" fill="#3a3a3a">-5</text>
<text x="1694.5" y="743.0" font-size="11.4" text-anchor="middle" fill="#3a3a3a">0</text>
<text x="1738.6" y="743.0" font-size="11.4" text-anchor="middle" fill="#3a3a3a">5</text>
<text x="1694.5" y="760.5" font-size="10.4" text-anchor="middle" fill="#3a3a3a">Row Z-Score</text>
</svg>
</body>
</html>
